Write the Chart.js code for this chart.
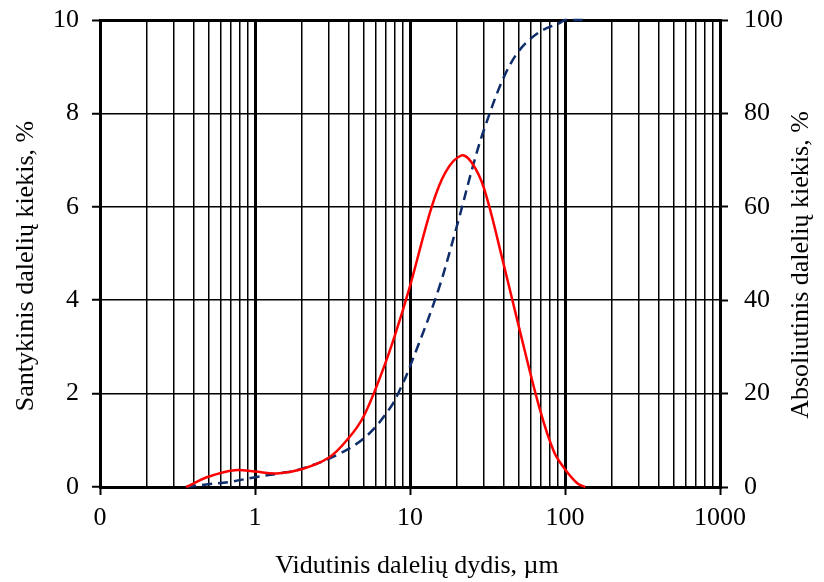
<!DOCTYPE html>
<html>
<head>
<meta charset="utf-8">
<script src="https://cdn.jsdelivr.net/npm/chart.js@4/dist/chart.umd.min.js"></script>
<style>
  body { margin: 0; background: #fff; }
</style>
</head>
<body>
<canvas id="chart" width="824" height="582"></canvas>
<script>
// particle size distribution
const sizes = [0.36, 0.5, 0.74, 1.0, 1.38, 2.0, 3.0, 4.0, 5.0, 6.5, 8.0, 10, 13.8, 17, 21.5, 25, 30, 40, 51, 69, 85, 100, 120, 135];
const relative = [0, 0.22, 0.36, 0.33, 0.29, 0.38, 0.63, 1.04, 1.5, 2.4, 3.25, 4.3, 6.0, 6.75, 7.1, 6.95, 6.4, 4.8, 3.36, 1.65, 0.75, 0.38, 0.08, 0];

const cumSizes = [0.36, 0.5, 0.69, 1.0, 1.5, 2.0, 3.4, 5.2, 7.4, 8.8, 10, 15, 20, 25.6, 30, 40, 51, 69, 93, 100, 130];
const cumulative = [0, 0.6, 1.1, 2.1, 3.0, 3.9, 6.9, 10.8, 16.8, 21.5, 25.8, 41.5, 55.7, 69, 76.5, 87.5, 93.6, 97.5, 99.4, 100, 100];

const xTickValues = [0.1, 1, 10, 100, 1000];
const xTickLabels = ['0', '1', '10', '100', '1000'];

const FONT = '"Liberation Serif", "Times New Roman", serif';

// every 1..9 x 10^n line for the log grid
const gridValues = [];
for (let e = -1; e <= 2; e++) {
    for (let m = 1; m <= 9; m++) gridValues.push(Number((m * Math.pow(10, e)).toPrecision(3)));
}
gridValues.push(1000);

const majorIndex = v => xTickValues.findIndex(t => Math.abs(t - v) / t < 1e-6);

// vertical axes: fixed width, no extra room above/below for labels
const fixY = w => axis => {
    axis.width = w;
    axis.paddingTop = 0;
    axis.paddingBottom = 0;
};

const axisTitles = {
    id: 'axisTitles',
    afterDraw(chart) {
        const c = chart.ctx;
        c.save();
        c.fillStyle = '#000';
        c.font = '26px ' + FONT;
        c.textAlign = 'center';
        c.textBaseline = 'alphabetic';
        c.fillText('Vidutinis dalelių dydis, µm', 417, 573);
        c.translate(33, 266);
        c.rotate(-Math.PI / 2);
        c.fillText('Santykinis dalelių kiekis, %', 0, 0);
        c.restore();
        c.save();
        c.fillStyle = '#000';
        c.font = '26px ' + FONT;
        c.textAlign = 'center';
        c.textBaseline = 'alphabetic';
        c.translate(808, 265);
        c.rotate(-Math.PI / 2);
        c.fillText('Absoliutinis dalelių kiekis, %', 0, 0);
        c.restore();
    }
};

new Chart(document.getElementById('chart'), {
    type: 'line',
    data: {
        datasets: [
            {
                data: sizes.map((s, i) => ({ x: s, y: relative[i] })),
                yAxisID: 'y',
                borderColor: '#ff0000',
                borderWidth: 2.5,
                pointRadius: 0,
                tension: 0.35,
                clip: false
            },
            {
                data: cumSizes.map((s, i) => ({ x: s, y: cumulative[i] })),
                yAxisID: 'y2',
                borderColor: '#0f2d6b',
                borderWidth: 2.5,
                borderDash: [10, 6],
                pointRadius: 0,
                tension: 0.35,
                clip: false
            }
        ]
    },
    options: {
        responsive: false,
        animation: false,
        devicePixelRatio: 1,
        layout: { padding: { top: 20, left: 0, right: 0, bottom: 0 } },
        plugins: { legend: { display: false }, tooltip: { enabled: false } },
        scales: {
            x: {
                type: 'logarithmic',
                min: 0.1,
                max: 1000,
                afterBuildTicks: axis => { axis.ticks = gridValues.map(v => ({ value: v })); },
                afterFit: axis => { axis.height = 95; },
                ticks: {
                    autoSkip: false,
                    maxRotation: 0,
                    padding: 8,
                    color: '#000',
                    font: { family: FONT, size: 26 },
                    callback: v => {
                        const i = majorIndex(v);
                        return i >= 0 ? xTickLabels[i] : '';
                    }
                },
                grid: {
                    color: '#000',
                    lineWidth: ctx => majorIndex(ctx.tick.value) >= 0 ? 3 : 1.5,
                    tickLength: 8,
                    tickWidth: 2,
                    tickColor: ctx => majorIndex(ctx.tick.value) >= 0 ? '#000' : 'rgba(0,0,0,0)'
                },
                border: { color: '#000', width: 3 }
            },
            y: {
                position: 'left',
                min: 0,
                max: 10,
                afterFit: fixY(100),
                ticks: { stepSize: 2, padding: 13, color: '#000', font: { family: FONT, size: 26 } },
                grid: {
                    color: '#000',
                    lineWidth: ctx => ctx.tick.value === 10 ? 3 : 1.5,
                    tickLength: 8,
                    tickWidth: 2
                },
                border: { color: '#000', width: 3 }
            },
            y2: {
                position: 'right',
                min: 0,
                max: 100,
                afterFit: fixY(104),
                ticks: { stepSize: 20, padding: 16, color: '#000', font: { family: FONT, size: 26 } },
                grid: { drawOnChartArea: false, color: '#000', tickLength: 8, tickWidth: 2 },
                border: { color: '#000', width: 3 }
            }
        }
    },
    plugins: [axisTitles]
});
</script>
</body>
</html>
